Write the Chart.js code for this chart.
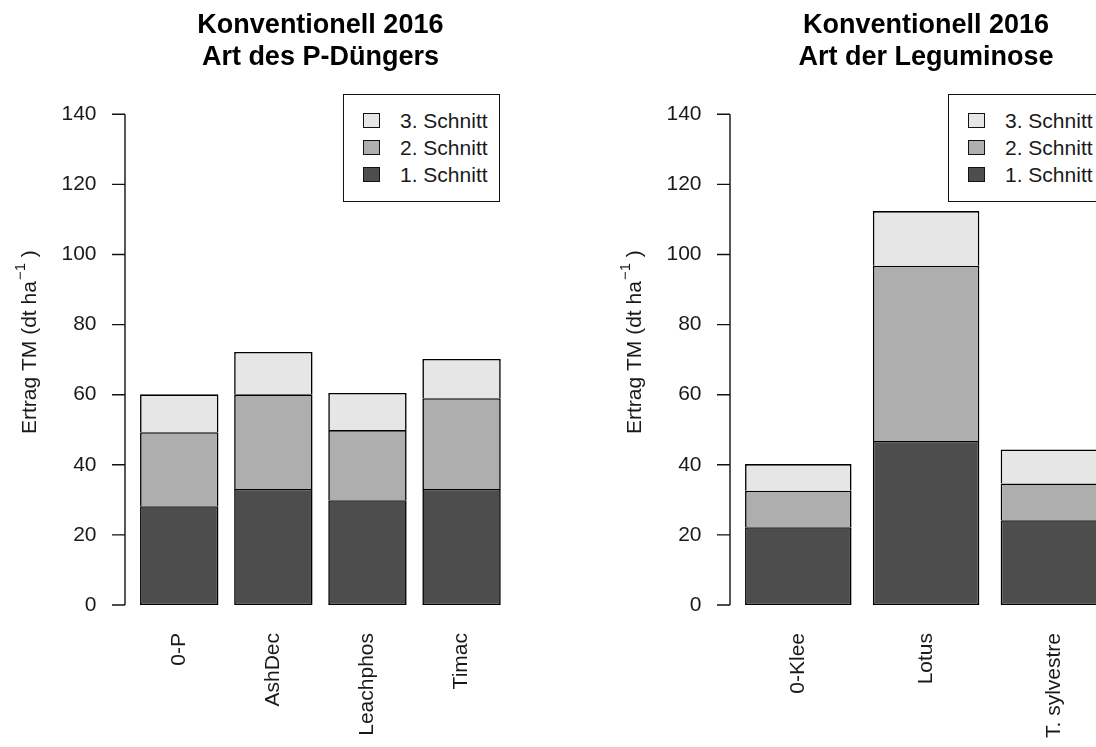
<!DOCTYPE html>
<html>
<head>
<meta charset="utf-8">
<script src="https://cdn.jsdelivr.net/npm/chart.js@4"></script>
<style>
  html, body { margin: 0; padding: 0; background: #fff; overflow: hidden; }
  #wrap { position: relative; width: 1096px; height: 747px; overflow: hidden; }
  .panel { position: absolute; top: 0; width: 605px; height: 747px; }
  .panel canvas { position: absolute; left: 0; top: 0; }
  .legend { position: absolute; left: 343px; top: 94px; width: 157px; height: 108px; box-sizing: border-box;
            border: 1.5px solid #111; background: #fff; font-family: 'Liberation Sans', Arial, sans-serif;
            font-size: 21px; color: #1a1a1a; }
  .legend .row { position: absolute; left: 0; width: 100%; height: 27px; line-height: 27px; }
  .legend .sw { position: absolute; left: 19px; top: 6px; width: 17px; height: 15px; box-sizing: border-box; border: 1.5px solid #111; }
  .legend .lab { position: absolute; left: 56px; white-space: nowrap; }
</style>
</head>
<body>
<div id="wrap">
  <div class="panel" style="left:0"><canvas id="chartP" width="605" height="747"></canvas><div class="legend" id="legP"></div></div>
  <div class="panel" style="left:605px"><canvas id="chartL" width="605" height="747"></canvas><div class="legend" id="legL"></div></div>
</div>
<script>
// Left panel: Art des P-Düngers
const pLabels = ['0-P', 'AshDec', 'Leachphos', 'Timac'];
const pSchnitt1 = [28.2, 33.1, 29.9, 33.1];
const pSchnitt2 = [21.1, 27.0, 20.0, 25.9];
const pSchnitt3 = [10.8, 12.1, 10.6, 11.2];

// Right panel: Art der Leguminose
const legLabels = ['0-Klee', 'Lotus', 'T. sylvestre'];
const legSchnitt1 = [22.2, 46.8, 24.2];
const legSchnitt2 = [10.4, 50.0, 10.5];
const legSchnitt3 = [7.6, 15.6, 9.7];

const seriesNames = ['1. Schnitt', '2. Schnitt', '3. Schnitt'];
const yTickValues = [0, 20, 40, 60, 80, 100, 120, 140];
const yTitle = 'Ertrag TM (dt ha';
const yTitleSup = '\u22121';

const seriesColors = ['#4d4d4d', '#aeaeae', '#e6e6e6'];
const TEXT = '#1a1a1a';
const FONT = "'Liberation Sans', Arial, sans-serif";
const AXIS_X = 125;
const TICK_LEN = 13;

Chart.defaults.font.family = FONT;

// R style y axis: line only from 0 to 140, outward ticks, label with superscript
const rAxis = {
  id: 'rAxis',
  afterDraw(chart) {
    const y = chart.scales.y;
    const ctx = chart.ctx;
    ctx.save();
    ctx.strokeStyle = '#111';
    ctx.lineWidth = 1.4;
    ctx.beginPath();
    ctx.moveTo(AXIS_X, y.getPixelForValue(yTickValues[0]));
    ctx.lineTo(AXIS_X, y.getPixelForValue(yTickValues[yTickValues.length - 1]));
    yTickValues.forEach(v => {
      const py = y.getPixelForValue(v);
      ctx.moveTo(AXIS_X - TICK_LEN, py);
      ctx.lineTo(AXIS_X, py);
    });
    ctx.stroke();

    ctx.translate(36, 434);
    ctx.rotate(-Math.PI / 2);
    ctx.fillStyle = TEXT;
    ctx.textAlign = 'left';
    ctx.textBaseline = 'alphabetic';
    ctx.font = '21px ' + FONT;
    ctx.fillText(yTitle, 0, 0);
    let w = ctx.measureText(yTitle).width;
    ctx.font = '15px ' + FONT;
    ctx.fillText(yTitleSup, w + 1, -11);
    w += ctx.measureText(yTitleSup).width + 1;
    ctx.font = '21px ' + FONT;
    ctx.fillText(' )', w, 0);
    ctx.restore();
  }
};

function buildLegend(id) {
  const box = document.getElementById(id);
  // top row is the last series, as in the stacked bars
  [2, 1, 0].forEach((k, i) => {
    const row = document.createElement('div');
    row.className = 'row';
    row.style.top = (12 + i * 26.85) + 'px';
    row.innerHTML = '<div class="sw" style="background:' + seriesColors[k] + '"></div>' +
                    '<span class="lab">' + seriesNames[k] + '</span>';
    box.appendChild(row);
  });
}

function makePanel(canvasId, labels, s1, s2, s3, titleLines, geom) {
  const series = [s1, s2, s3];
  return new Chart(document.getElementById(canvasId), {
    type: 'bar',
    data: {
      labels: labels,
      datasets: series.map((vals, k) => ({
        label: seriesNames[k],
        data: vals,
        backgroundColor: seriesColors[k],
        borderColor: '#000',
        borderWidth: 1.6,
        borderSkipped: k === 0 ? false : 'start',
        barPercentage: 1 / 1.2,
        categoryPercentage: 1
      }))
    },
    options: {
      responsive: false,
      animation: false,
      events: [],
      layout: { padding: { left: 0, right: 605 - geom.right, top: 0, bottom: 0 } },
      plugins: {
        legend: { display: false },
        tooltip: { enabled: false },
        title: {
          display: true,
          text: titleLines,
          fullSize: false,
          color: '#000',
          font: { size: 27, weight: 'bold', lineHeight: 32 / 27 },
          padding: { top: 9.6, bottom: 40.7 }
        }
      },
      scales: {
        x: {
          stacked: true,
          afterFit: s => { s.height = 142; },
          grid: { display: false, drawTicks: false },
          border: { display: false },
          ticks: { autoSkip: false, minRotation: 90, maxRotation: 90, padding: 28, color: TEXT, font: { size: 21 } }
        },
        y: {
          stacked: true,
          min: 0,
          max: 140,
          afterBuildTicks: s => { s.ticks = yTickValues.map(v => ({ value: v })); },
          afterFit: s => { s.width = geom.left; },
          grid: { display: false, drawTicks: false },
          border: { display: false },
          ticks: { padding: geom.left - 96.5, color: TEXT, font: { size: 21 } }
        }
      }
    },
    plugins: [rAxis]
  });
}

makePanel('chartP', pLabels, pSchnitt1, pSchnitt2, pSchnitt3,
  ['Konventionell 2016', 'Art des P-Düngers'], { left: 132.2, right: 508.6 });
makePanel('chartL', legLabels, legSchnitt1, legSchnitt2, legSchnitt3,
  ['Konventionell 2016', 'Art der Leguminose'], { left: 129.4, right: 512.8 });
buildLegend('legP');
buildLegend('legL');
</script>
</body>
</html>
